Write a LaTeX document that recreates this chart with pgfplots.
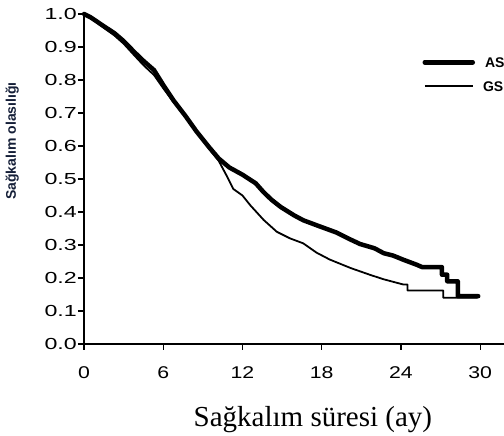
\documentclass[border=0pt]{standalone}
\usepackage{pgfplots}
\pgfplotsset{compat=1.18}
\usepackage{fontspec}
\setmainfont{Liberation Sans}
\newfontfamily\serif{Liberation Serif}

\begin{document}
\begin{tikzpicture}
\begin{axis}[
    at={(84pt,92pt)}, anchor=south west,
    scale only axis,
    width=420pt, height=330pt,
    xmin=0, xmax=31.8,
    ymin=0, ymax=1,
    clip=false,
    axis lines=left,
    axis line style={-, line width=1.4pt},
    tick style={line width=1.4pt, black},
    tick align=outside,
    major tick length=6pt,
    xtick={0,6,12,18,24,30},
    ytick={0,0.1,...,1.0},
    /pgf/number format/assume math mode=true,
    xticklabel={\scalebox{1.25}[1]{\pgfmathprintnumber{\tick}}},
    yticklabel={\scalebox{1.45}[1]{\pgfmathprintnumber[fixed,fixed zerofill,precision=1]{\tick}}},
    xticklabel style={font=\fontsize{17}{19}\selectfont, inner sep=0pt, anchor=north, yshift=-16pt},
    yticklabel style={font=\fontsize{16}{18}\selectfont, inner sep=0pt, anchor=east, xshift=-1pt},
    xlabel={\serif Sağkalım süresi (ay)},
    xlabel style={font=\fontsize{29}{32}\selectfont, at={(axis description cs:0.545,0)}, anchor=base, yshift=-83pt},
    ylabel={\bfseries Sağkalım olasılığı},
    ylabel style={font=\fontsize{14}{16}\selectfont, color={rgb,255:red,20;green,30;blue,55}, at={(axis description cs:-0.171,0.615)}, anchor=center},
    legend style={draw=none, fill=none, at={(axis description cs:0.806,0.818)}, anchor=west,
        inner sep=0pt, outer sep=0pt, row sep=13pt, column sep=0pt,
        font=\fontsize{14}{16}\selectfont\bfseries,
        nodes={inner sep=0pt, text height=10.5pt, text depth=0pt}},
    legend cell align=left,
    legend image code/.code={\draw[#1] (0pt,0pt) -- (48pt,0pt);},
]
\addplot[black, line width=4.5pt, line join=round, line cap=round] coordinates {
(0,1.0)(0.5,0.99)(1.5,0.963)(2.3,0.942)(3.0,0.918)(3.8,0.885)(4.5,0.858)(5.3,0.83)
(6.0,0.785)(6.8,0.737)(7.7,0.69)(8.5,0.645)(9.5,0.595)(10.2,0.562)(11.0,0.535)
(12.0,0.513)(13.0,0.487)(13.6,0.46)(14.2,0.437)(14.9,0.415)(15.9,0.39)(16.6,0.375)
(17.6,0.36)(19.1,0.338)(20.1,0.318)(20.9,0.303)(22.0,0.29)(22.7,0.275)(23.4,0.268)
(24.2,0.255)(25.2,0.24)(25.6,0.233)(27.1,0.233)(27.1,0.21)(27.5,0.21)(27.5,0.19)
(28.3,0.19)(28.3,0.145)(29.85,0.145)
};
\addlegendentry{\hspace*{10pt}AS}
\addplot[black, line width=1.8pt, line join=round] coordinates {
(0,1.0)(0.7,0.982)(1.5,0.958)(2.3,0.935)(3.0,0.91)(3.8,0.875)(4.5,0.845)(5.3,0.815)
(6.0,0.775)(6.8,0.732)(7.7,0.688)(8.5,0.642)(9.5,0.59)(10.2,0.555)(10.8,0.51)
(11.3,0.47)(12.0,0.45)(12.6,0.42)(13.6,0.376)(14.6,0.34)(15.6,0.32)(16.6,0.305)
(17.6,0.277)(18.6,0.256)(20.2,0.23)(21.7,0.209)(22.7,0.196)(24.2,0.18)(24.5,0.18)
(24.5,0.162)(27.2,0.162)(27.2,0.14)(29.8,0.14)
};
\addlegendentry{\hspace*{8pt}GS}
\end{axis}
\pgfresetboundingbox
\useasboundingbox (0,0) rectangle (504pt,436pt);
\end{tikzpicture}
\end{document}
